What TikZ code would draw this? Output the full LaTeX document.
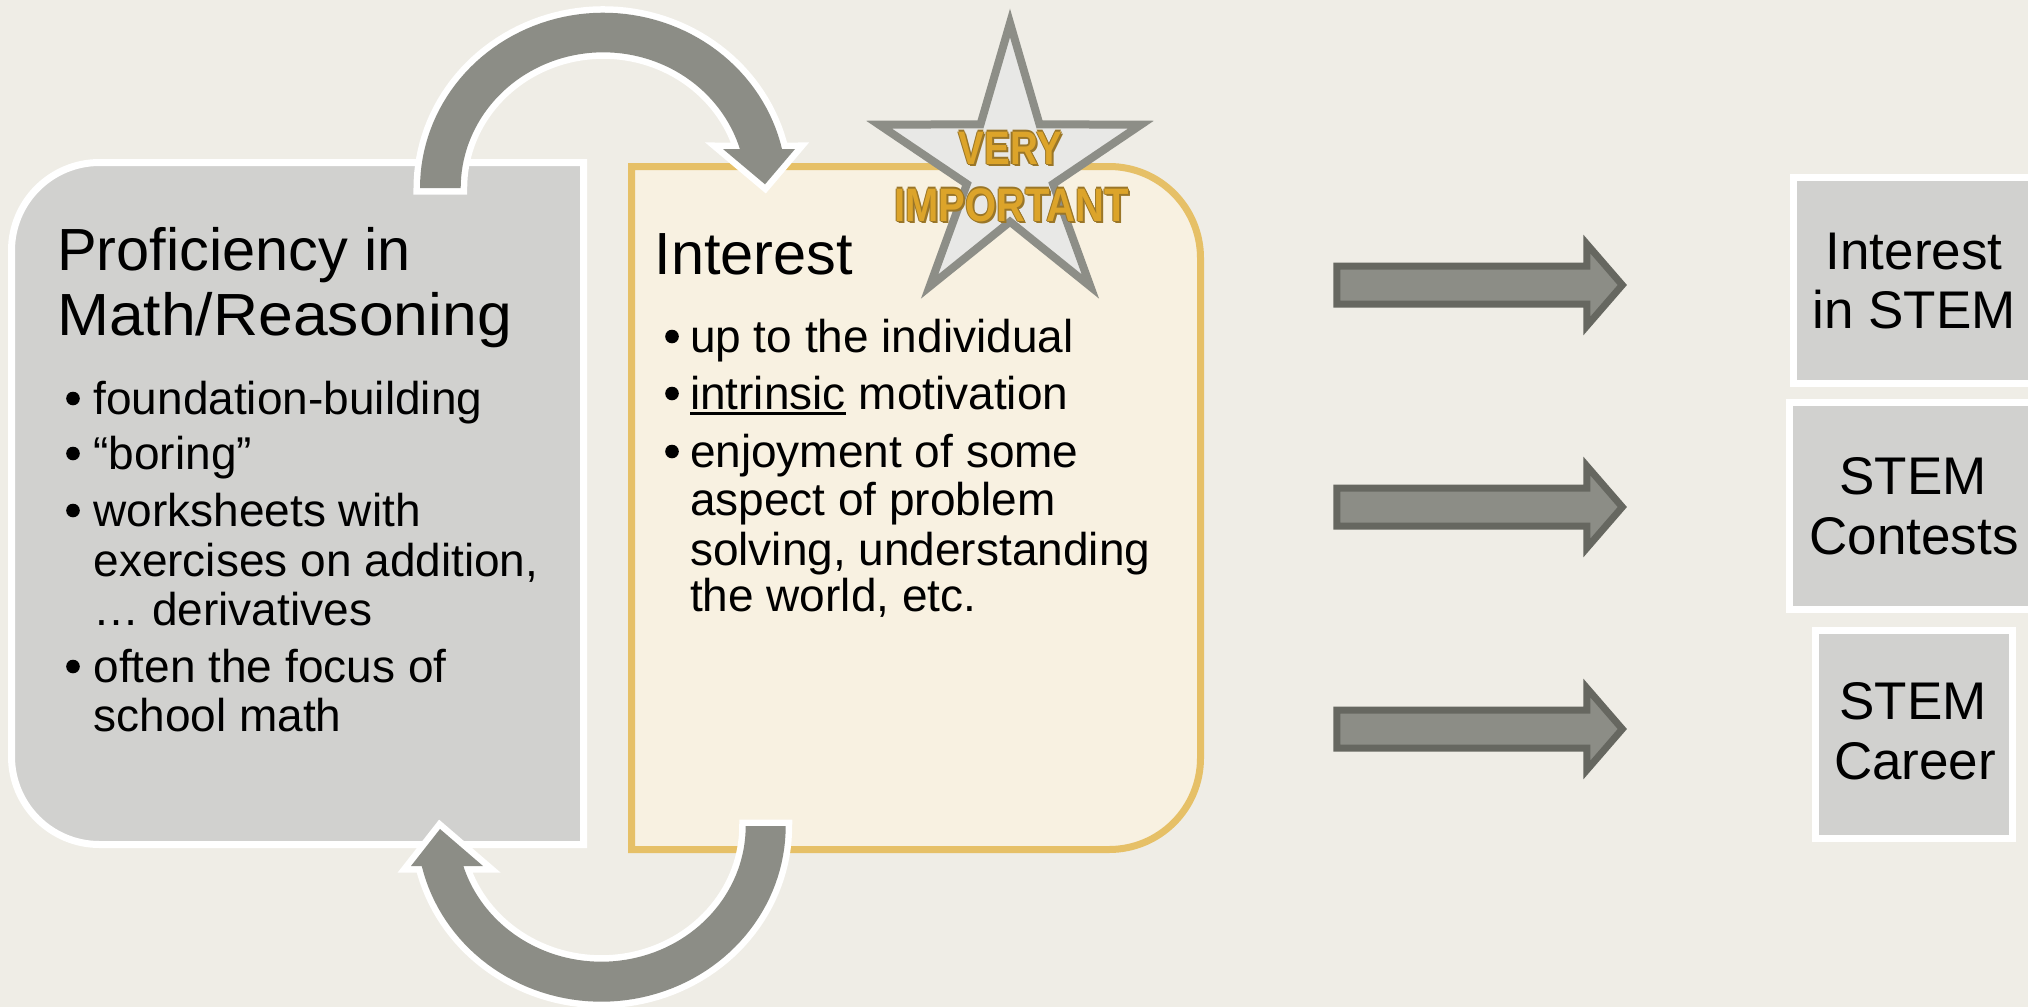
\documentclass[tikz,border=0pt]{standalone}
\usepackage{fontspec}
\setmainfont{Liberation Sans}
\usepackage{graphicx}
\definecolor{bgcol}{HTML}{EFEDE6}
\definecolor{boxgray}{HTML}{D1D1CF}
\definecolor{cream}{HTML}{F8F1E1}
\definecolor{goldline}{HTML}{E6C067}
\definecolor{arrowgray}{HTML}{8C8D86}
\definecolor{arrowdark}{HTML}{666760}
\definecolor{starfill}{HTML}{E8E8E6}
\definecolor{starline}{HTML}{8D8E87}
\definecolor{goldtext}{HTML}{DCA42A}
\definecolor{goldshadow}{HTML}{9A7628}
\begin{document}
\begin{tikzpicture}[x=1pt,y=-1pt,line join=miter]
\tikzset{
  titletxt/.style={font=\fontsize{59.5}{65}\selectfont, anchor=base west, inner sep=0pt, outer sep=0pt},
  bodytxt/.style={font=\fontsize{46}{50}\selectfont, anchor=base west, inner sep=0pt, outer sep=0pt},
  boxtxt/.style={font=\fontsize{53}{60}\selectfont, anchor=base, inner sep=0pt, outer sep=0pt},
  startxt/.style={font=\fontsize{47}{50}\selectfont\bfseries, anchor=base, inner sep=0pt, outer sep=0pt},
  rbox/.style={rectangle, draw=white, line width=7, fill=boxgray, inner sep=0pt, outer sep=0pt},
  carrow/.style={fill=arrowgray, preaction={draw=white, line width=13}},
  blockarrow/.style={draw=arrowdark, line width=7, fill=arrowgray},
  bulletdot/.style={fill=black}
}
\useasboundingbox (0,0) rectangle (2028,1007);
\clip (0,0) rectangle (2028,1007);
\fill[bgcol] (0,0) rectangle (2028,1007);

% left box
\draw[draw=white, line width=7, fill=boxgray] (583.5,162.5) -- (99.5,162.5)
  arc[start angle=270,end angle=180,radius=88] -- (11.5,756.5)
  arc[start angle=180,end angle=90,radius=88] -- (583.5,844.5) -- cycle;

% interest box
\draw[draw=goldline, line width=7, fill=cream] (631.5,166.5) -- (1109,166.5)
  arc[start angle=270,end angle=360,radius=91.5] -- (1200.5,758)
  arc[start angle=0,end angle=90,radius=91.5] -- (631.5,849.5) -- cycle;

% top curved arrow
\path[carrow] plot[domain=180:347.15, samples=70] ({603.3+183.3*cos(\x)},{188+175.3*sin(\x)})
  -- (795,149) -- (765,184.3) -- (723,149)
  -- plot[domain=343.3:180, samples=70] ({603.3+142.6*cos(\x)},{188+135.7*sin(\x)}) -- cycle;

% bottom curved arrow
\path[carrow] plot[domain=0:166.84, samples=70] ({601.3+184.4*cos(\x)},{826+175.7*sin(\x)})
  -- (411,866) -- (440,829) -- (483,866)
  -- plot[domain=162.86:0, samples=70] ({601.3+144.4*cos(\x)},{826+135.7*sin(\x)}) -- cycle;

% left box text
\node[titletxt] (p1) at (57,270) {Proficiency in};
\node[titletxt] (p2) at (57,335) {\scalebox{1.05}[1]{Math/Reasoning}};
\node[bodytxt] (l1) at (93.5,414) {foundation-building};
\node[bodytxt] (l2) at (93.5,469) {“boring”};
\node[bodytxt] (l3) at (93.5,526) {worksheets with};
\node[bodytxt] (l4) at (93.5,576) {exercises on addition,};
\node[bodytxt] (l5) at (93.5,625) {… derivatives};
\node[bodytxt] (l6) at (93.5,682) {often the focus of};
\node[bodytxt] (l7) at (93.5,731) {school math};
\foreach \yy in {414,469,526,682} {\fill[bulletdot] (73,{\yy-15.5}) circle[radius=6.8];}

% interest box text
\node[titletxt] (it) at (654.5,274) {Interest};
\node[bodytxt] (r1) at (690,352) {up to the individual};
\node[bodytxt] (r2a) at (690,409) {intrinsic};
\node[bodytxt, xshift=12.8pt] (r2b) at (r2a.base east) {motivation};
\draw[line width=2.5] ([yshift=-4.5pt]r2a.base west) -- ([yshift=-4.5pt]r2a.base east);
\node[bodytxt] (r3) at (690,467) {enjoyment of some};
\node[bodytxt] (r4) at (690,515) {aspect of problem};
\node[bodytxt] (r5) at (690,565) {solving, understanding};
\node[bodytxt] (r6) at (690,611) {the world, etc.};
\foreach \yy in {352,409,467} {\fill[bulletdot] (672,{\yy-15.5}) circle[radius=6.8];}

% star
\draw[draw=starline, line width=8, fill=starfill] (1010,23) -- (1039.5,124.3) -- (1140.9,124.7)
  -- (1053.1,184) -- (1090.4,286.5) -- (1010,221.7) -- (929.6,286.5) -- (966.9,184)
  -- (879.1,124.7) -- (980.5,124.3) -- cycle;
\node[startxt, text=goldshadow] (vs) at (1012.5,166.5) {\scalebox{0.82}[1]{VERY}};
\node[startxt, text=goldshadow] (ims) at (1013.5,223.5) {\scalebox{0.85}[1]{IMPORTANT}};
\foreach \dx/\dy [count=\k] in {-1.2/0,1.2/0,0/-1.2,0/1.2} {
  \node[startxt, text=goldshadow] (vo\k) at ({1010.5+\dx},{164+\dy}) {\scalebox{0.82}[1]{VERY}};
  \node[startxt, text=goldshadow] (imo\k) at ({1011.5+\dx},{221+\dy}) {\scalebox{0.85}[1]{IMPORTANT}};
}
\node[startxt, text=goldtext] (v) at (1010.5,164) {\scalebox{0.82}[1]{VERY}};
\node[startxt, text=goldtext] (im) at (1011.5,221) {\scalebox{0.85}[1]{IMPORTANT}};

% straight block arrows
\foreach \yy in {285,507,729} {
  \draw[blockarrow] (1336.8,{\yy-19}) -- (1586.8,{\yy-19}) -- (1586.8,{\yy-41}) -- (1622.3,\yy)
    -- (1586.8,{\yy+41}) -- (1586.8,{\yy+19}) -- (1336.8,{\yy+19}) -- cycle;
}

% right boxes
\node[rbox, minimum width=246.5, minimum height=206] (b1) at (1916.75,280.5) {};
\node[rbox, minimum width=250.5, minimum height=207] (b2) at (1914.75,506) {};
\node[rbox, minimum width=197, minimum height=208] (b3) at (1914,734.5) {};
\node[boxtxt] (b1a) at (1914,269.5) {Interest};
\node[boxtxt] (b1b) at (1914,328.5) {in STEM};
\node[boxtxt] (b2a) at (1913,494) {STEM};
\node[boxtxt] (b2b) at (1914,554) {Contests};
\node[boxtxt] (b3a) at (1913,719) {STEM};
\node[boxtxt] (b3b) at (1915,779.5) {Career};
\end{tikzpicture}
\end{document}
